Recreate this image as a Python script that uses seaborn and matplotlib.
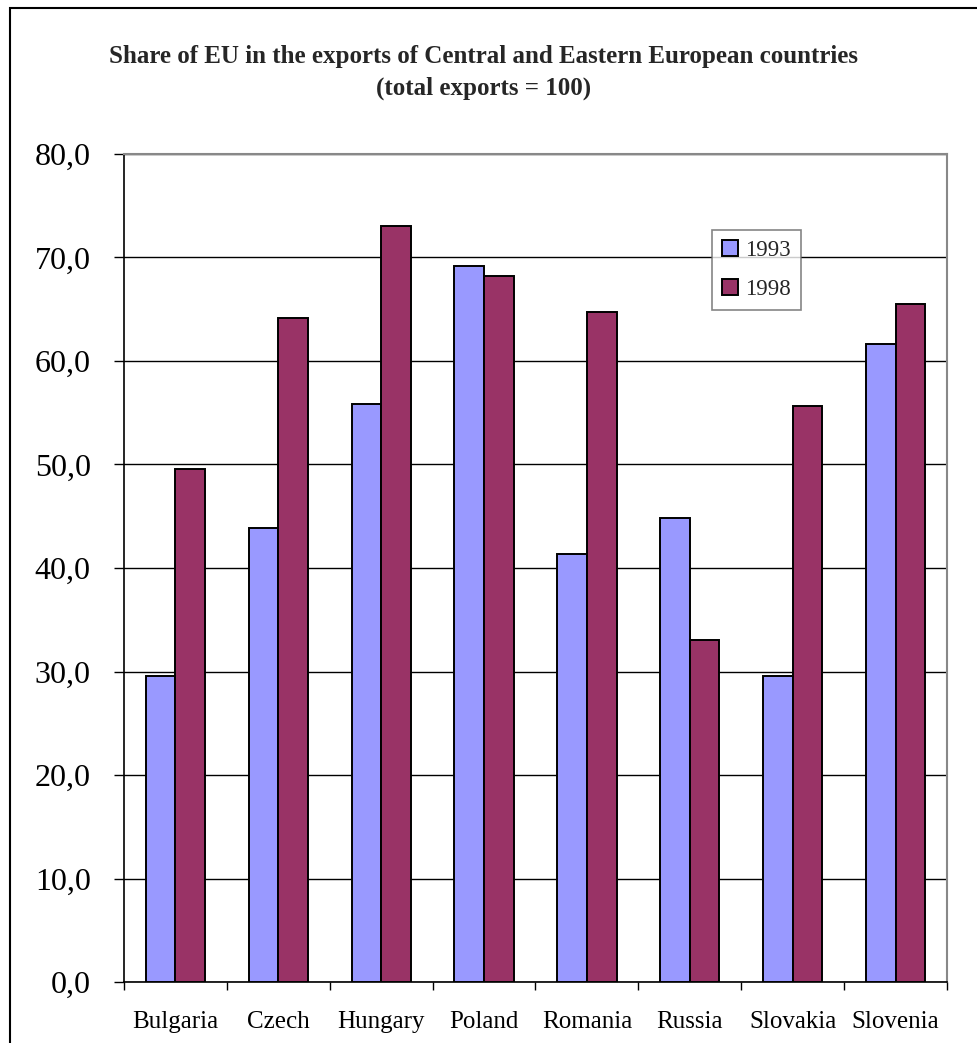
import matplotlib
matplotlib.use("Agg")
import matplotlib.pyplot as plt
import matplotlib.patches as mpatches
import seaborn as sns
import pandas as pd
import numpy as np

# dados
paises = ['Bulgaria', 'Czech', 'Hungary', 'Poland', 'Romania', 'Russia', 'Slovakia', 'Slovenia']
anos = ['1993', '1998']
valores_1993 = [29.6, 43.9, 55.8, 69.2, 41.4, 44.8, 29.6, 61.6]
valores_1998 = [49.6, 64.2, 73.0, 68.2, 64.7, 33.0, 55.7, 65.5]
y_ticks = [0, 10, 20, 30, 40, 50, 60, 70, 80]
cores = ['#9999FF', '#993366']

df = pd.DataFrame({
    'pais': paises * 2,
    'ano': [anos[0]] * len(paises) + [anos[1]] * len(paises),
    'valor': valores_1993 + valores_1998,
})

sns.set_theme(style="white")
plt.rcParams['font.family'] = ['Liberation Serif', 'DejaVu Serif']

fig = plt.figure(figsize=(9.78, 10.43), dpi=100)
ax = fig.add_axes([124 / 978, 1 - 982 / 1043, (947 - 124) / 978, (982 - 154) / 1043])

sns.barplot(data=df, x='pais', y='valor', hue='ano', palette=cores, width=0.575,
            gap=0, edgecolor='black', linewidth=1.4, saturation=1, ax=ax, zorder=3)

ax.set_xlim(-0.5, 7.5)
ax.set_ylim(0, 80)
ax.set_yticks(y_ticks)
ax.set_yticklabels([f"{v:.1f}".replace('.', ',') for v in y_ticks], fontsize=23)
ax.set_xticks(range(len(paises)))
ax.set_xticklabels(paises, fontsize=18)
ax.set_xticks(np.arange(-0.5, 8, 1), minor=True)
ax.tick_params(axis='x', which='major', length=0, pad=21, colors='black')
ax.tick_params(axis='x', which='minor', length=6, width=1, direction='out', color='black', bottom=True)
ax.tick_params(axis='y', length=7, width=1, direction='out', pad=17, colors='black', left=True)
ax.set_xlabel('')
ax.set_ylabel('')
ax.yaxis.grid(True, color='black', linewidth=1)
ax.set_axisbelow(True)

for lado in ['top', 'right']:
    ax.spines[lado].set_color('#888888')
    ax.spines[lado].set_linewidth(1.5)
for lado in ['left', 'bottom']:
    ax.spines[lado].set_color('black')
    ax.spines[lado].set_linewidth(1.2)

leg = ax.legend(loc='upper left', bbox_to_anchor=((712 - 124) / 823, (982 - 230) / 828),
                fontsize=16.5, frameon=True, fancybox=False, handlelength=0.7, handleheight=0.7,
                handletextpad=0.3, labelspacing=0.75, borderpad=0.45, borderaxespad=0)
leg.get_frame().set_edgecolor('#666666')
leg.get_frame().set_linewidth(1.2)

fig.text(484 / 978, 1 - 57 / 1043, 'Share of EU in the exports of Central and Eastern European countries',
         ha='center', va='center', fontsize=18, fontweight='bold')
fig.text(484 / 978, 1 - 88 / 1043, '(total exports = 100)',
         ha='center', va='center', fontsize=18, fontweight='bold')

# moldura externa do gráfico
fig.add_artist(mpatches.Rectangle((10 / 978, -0.1), 1.2, 1.1 - 7.5 / 1043,
                                  transform=fig.transFigure, fill=False, edgecolor='black', linewidth=1.5))

fig.savefig('out.png', dpi=100)
